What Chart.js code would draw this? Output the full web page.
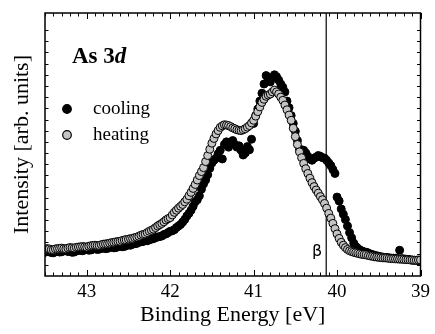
<!DOCTYPE html>
<html>
<head>
<meta charset="utf-8">
<script src="https://cdn.jsdelivr.net/npm/chart.js@4.4.1/dist/chart.umd.min.js"></script>
<style>
html, body { margin: 0; padding: 0; background: #fff; }
#wrap { width: 435px; height: 334px; }
</style>
</head>
<body>
<div id="wrap"><canvas id="chart-as3d"></canvas></div>
<script>
// binding energy of each sample (eV)
var energy = [
  43.500, 43.475, 43.450, 43.425, 43.400, 43.375, 43.350, 43.325, 43.300, 43.275,
  43.250, 43.225, 43.200, 43.175, 43.150, 43.125, 43.100, 43.075, 43.050, 43.025,
  43.000, 42.975, 42.950, 42.925, 42.900, 42.875, 42.850, 42.825, 42.800, 42.775,
  42.750, 42.725, 42.700, 42.675, 42.650, 42.625, 42.600, 42.575, 42.550, 42.525,
  42.500, 42.475, 42.450, 42.425, 42.400, 42.375, 42.350, 42.325, 42.300, 42.275,
  42.250, 42.225, 42.200, 42.175, 42.150, 42.125, 42.100, 42.075, 42.050, 42.025,
  42.000, 41.975, 41.950, 41.925, 41.900, 41.875, 41.850, 41.825, 41.800, 41.775,
  41.750, 41.725, 41.700, 41.675, 41.650, 41.625, 41.600, 41.575, 41.550, 41.525,
  41.500, 41.475, 41.450, 41.425, 41.400, 41.375, 41.350, 41.325, 41.300, 41.275,
  41.250, 41.225, 41.200, 41.175, 41.150, 41.125, 41.100, 41.075, 41.050, 41.025,
  41.000, 40.975, 40.950, 40.925, 40.900, 40.875, 40.850, 40.825, 40.800, 40.775,
  40.750, 40.725, 40.700, 40.675, 40.650, 40.625, 40.600, 40.575, 40.550, 40.525,
  40.500, 40.475, 40.450, 40.425, 40.400, 40.375, 40.350, 40.325, 40.300, 40.275,
  40.250, 40.225, 40.200, 40.175, 40.150, 40.125, 40.100, 40.075, 40.050, 40.025,
  40.000, 39.975, 39.950, 39.925, 39.900, 39.875, 39.850, 39.825, 39.800, 39.775,
  39.750, 39.725, 39.700, 39.675, 39.650, 39.625, 39.600, 39.575, 39.550, 39.525,
  39.500, 39.475, 39.450, 39.425, 39.400, 39.375, 39.350, 39.325, 39.300, 39.275,
  39.250, 39.225, 39.200, 39.175, 39.150, 39.125, 39.100, 39.075, 39.050, 39.025,
  39.000];

var cooling = [
  0.090, 0.094, 0.093, 0.089, 0.088, 0.092, 0.095, 0.091, 0.092, 0.096,
  0.097, 0.093, 0.094, 0.090, 0.091, 0.095, 0.098, 0.097, 0.096, 0.099,
  0.101, 0.098, 0.099, 0.102, 0.104, 0.101, 0.102, 0.105, 0.107, 0.104,
  0.105, 0.109, 0.110, 0.107, 0.108, 0.112, 0.114, 0.111, 0.112, 0.116,
  0.118, 0.117, 0.121, 0.123, 0.124, 0.128, 0.130, 0.131, 0.135, 0.134,
  0.138, 0.140, 0.142, 0.146, 0.148, 0.150, 0.152, 0.158, 0.160, 0.165,
  0.170, 0.172, 0.176, 0.184, 0.190, 0.196, 0.205, 0.215, 0.228, 0.238,
  0.250, 0.265, 0.282, 0.290, 0.305, 0.330, 0.350, 0.365, 0.385, 0.410,
  0.430, 0.440, 0.448, 0.465, 0.478, 0.445, 0.500, 0.510, 0.490, 0.505,
  0.515, 0.500, 0.490, 0.495, 0.478, 0.460, 0.468, 0.492, 0.480, 0.520,
  0.580, 0.610, 0.635, 0.665, 0.695, 0.730, 0.762, 0.750, 0.738, 0.755,
  0.765, 0.758, 0.745, 0.730, 0.718, 0.700, 0.665, 0.640, 0.610, 0.580,
  0.550, 0.515, 0.482, 0.480, 0.478, 0.468, 0.455, 0.445, 0.440, 0.448,
  0.452, 0.458, 0.455, 0.450, 0.448, 0.440, 0.430, 0.420, 0.405, 0.390,
  0.300, 0.285, 0.255, 0.235, 0.215, 0.190, 0.165, 0.145, 0.125, 0.112,
  0.105, 0.099, 0.095, 0.092, 0.090, 0.087, 0.083, 0.081, 0.078, 0.077,
  0.075, 0.073, 0.072, 0.071, 0.070, 0.069, 0.068, 0.068, 0.067, 0.066,
  0.098, 0.066, 0.065, 0.064, 0.063, 0.062, 0.060, 0.060, 0.059, 0.058,
  0.058];

var heating = [
  0.101, 0.104, 0.103, 0.100, 0.100, 0.103, 0.104, 0.105, 0.106, 0.104,
  0.103, 0.106, 0.108, 0.107, 0.106, 0.109, 0.110, 0.111, 0.112, 0.111,
  0.110, 0.113, 0.115, 0.116, 0.117, 0.116, 0.116, 0.119, 0.121, 0.122,
  0.123, 0.125, 0.127, 0.128, 0.130, 0.131, 0.132, 0.135, 0.137, 0.138,
  0.140, 0.142, 0.143, 0.146, 0.148, 0.151, 0.155, 0.158, 0.160, 0.165,
  0.170, 0.174, 0.178, 0.184, 0.190, 0.195, 0.200, 0.206, 0.213, 0.218,
  0.222, 0.232, 0.242, 0.250, 0.258, 0.265, 0.272, 0.282, 0.292, 0.305,
  0.318, 0.333, 0.348, 0.365, 0.382, 0.397, 0.412, 0.435, 0.458, 0.482,
  0.505, 0.523, 0.540, 0.553, 0.565, 0.571, 0.575, 0.574, 0.572, 0.568,
  0.563, 0.560, 0.556, 0.554, 0.553, 0.556, 0.560, 0.566, 0.572, 0.582,
  0.592, 0.608, 0.625, 0.643, 0.660, 0.672, 0.683, 0.688, 0.692, 0.700,
  0.707, 0.700, 0.692, 0.680, 0.668, 0.650, 0.632, 0.612, 0.592, 0.562,
  0.530, 0.500, 0.472, 0.450, 0.428, 0.408, 0.390, 0.372, 0.355, 0.340,
  0.327, 0.315, 0.302, 0.290, 0.276, 0.258, 0.238, 0.220, 0.200, 0.180,
  0.160, 0.143, 0.128, 0.117, 0.108, 0.101, 0.096, 0.093, 0.090, 0.088,
  0.086, 0.084, 0.082, 0.081, 0.080, 0.078, 0.076, 0.075, 0.073, 0.072,
  0.071, 0.070, 0.069, 0.069, 0.068, 0.067, 0.066, 0.066, 0.065, 0.065,
  0.064, 0.064, 0.063, 0.062, 0.062, 0.061, 0.061, 0.060, 0.060, 0.061,
  0.061];

var xTickLabels = ["43", "42", "41", "40", "39"];
var betaEnergy = 40.13;

var serif = "'Liberation Serif', 'Times New Roman', serif";

function toPoints(ys) {
  return energy.map(function (e, i) { return { x: e, y: ys[i] }; });
}

// frame, inward ticks, marker line and the in-plot texts
var decor = {
  id: "decor",
  beforeDatasetsDraw: function (chart) {
    var ctx = chart.ctx, a = chart.chartArea;
    var bx = chart.scales.x.getPixelForValue(betaEnergy);
    ctx.save();
    ctx.strokeStyle = "#000";
    ctx.lineWidth = 1.2;
    ctx.beginPath();
    ctx.moveTo(bx, a.top);
    ctx.lineTo(bx, a.bottom);
    ctx.stroke();
    ctx.restore();
  },
  afterDraw: function (chart) {
    var ctx = chart.ctx, a = chart.chartArea;
    var xs = chart.scales.x, ys = chart.scales.y;
    ctx.save();
    ctx.strokeStyle = "#000";
    ctx.lineWidth = 1.5;
    ctx.strokeRect(a.left, a.top, a.right - a.left, a.bottom - a.top);

    ctx.lineWidth = 1;
    ctx.beginPath();
    xs.ticks.forEach(function (t) {
      var px = Math.round(xs.getPixelForValue(t.value)) + 0.5;
      var major = Math.abs(t.value - Math.round(t.value)) < 1e-6;
      var len = major ? 6 : 3.5;
      ctx.moveTo(px, a.bottom);
      ctx.lineTo(px, a.bottom - len);
      ctx.moveTo(px, a.top);
      ctx.lineTo(px, a.top + len);
    });
    ys.ticks.forEach(function (t) {
      if (t.value <= 0 || t.value >= 0.99) return;
      var py = Math.round(ys.getPixelForValue(t.value)) + 0.5;
      ctx.moveTo(a.left, py);
      ctx.lineTo(a.left + 3.5, py);
      ctx.moveTo(a.right, py);
      ctx.lineTo(a.right - 3.5, py);
    });
    ctx.stroke();

    // As 3d
    ctx.fillStyle = "#000";
    ctx.textBaseline = "alphabetic";
    ctx.textAlign = "left";
    ctx.font = "bold 23px " + serif;
    var t1 = "As 3";
    ctx.fillText(t1, 72, 63);
    var w1 = ctx.measureText(t1).width;
    ctx.font = "italic bold 23px " + serif;
    ctx.fillText("d", 72 + w1, 63);

    // legend
    var items = [
      { label: "cooling", fill: "#000", y: 109 },
      { label: "heating", fill: "#c4c4c4", y: 135 }
    ];
    items.forEach(function (it) {
      ctx.beginPath();
      ctx.arc(67, it.y, 4.3, 0, Math.PI * 2);
      ctx.fillStyle = it.fill;
      ctx.fill();
      ctx.lineWidth = 1.2;
      ctx.strokeStyle = "#000";
      ctx.stroke();
      ctx.fillStyle = "#000";
      ctx.font = "19px " + serif;
      ctx.textBaseline = "middle";
      ctx.fillText(it.label, 93, it.y);
    });

    // beta marker label
    ctx.font = "16px 'DejaVu Sans', sans-serif";
    ctx.textBaseline = "middle";
    ctx.textAlign = "center";
    ctx.fillText("\u03b2", 317, 252);
    ctx.restore();
  }
};

var ctx_as3d = document.getElementById("chart-as3d").getContext("2d");

new Chart(ctx_as3d, {
  type: "scatter",
  data: {
    datasets: [{
      label: "cooling",
      data: toPoints(cooling),
      order: 1,
      pointRadius: 4,
      pointBorderWidth: 1,
      backgroundColor: "#000",
      borderColor: "#000"
    }, {
      label: "heating",
      data: toPoints(heating),
      order: 0,
      pointRadius: 4,
      pointBorderWidth: 1,
      backgroundColor: "#c4c4c4",
      borderColor: "#000"
    }]
  },
  options: {
    responsive: true,
    maintainAspectRatio: false,
    animation: false,
    layout: {
      padding: { top: 13, right: 12, left: 0, bottom: 0 }
    },
    plugins: {
      legend: { display: false },
      tooltip: { enabled: false }
    },
    scales: {
      x: {
        type: "linear",
        reverse: true,
        min: 39,
        max: 43.5,
        grid: { display: false, drawTicks: false },
        border: { display: false },
        ticks: {
          stepSize: 0.1,
          autoSkip: false,
          maxRotation: 0,
          padding: 5,
          color: "#000",
          font: { family: serif, size: 19 },
          callback: function (v) {
            var s = String(Math.round(v));
            if (Math.abs(v - Math.round(v)) < 1e-6 && xTickLabels.indexOf(s) >= 0) return s;
            return "";
          }
        },
        title: {
          display: true,
          text: "Binding Energy [eV]",
          color: "#000",
          font: { family: serif, size: 22 },
          padding: { top: 0, bottom: 6 }
        },
        afterFit: function (s) { s.height = 58; }
      },
      y: {
        min: 0,
        max: 1,
        grid: { display: false, drawTicks: false },
        border: { display: false },
        ticks: { display: false, stepSize: 0.0425 },
        title: {
          display: true,
          text: "Intensity [arb. units]",
          color: "#000",
          font: { family: serif, size: 22 },
          padding: { top: 9, bottom: 0 }
        },
        afterFit: function (s) { s.width = 45; }
      }
    }
  },
  plugins: [decor]
});
</script>
</body>
</html>
